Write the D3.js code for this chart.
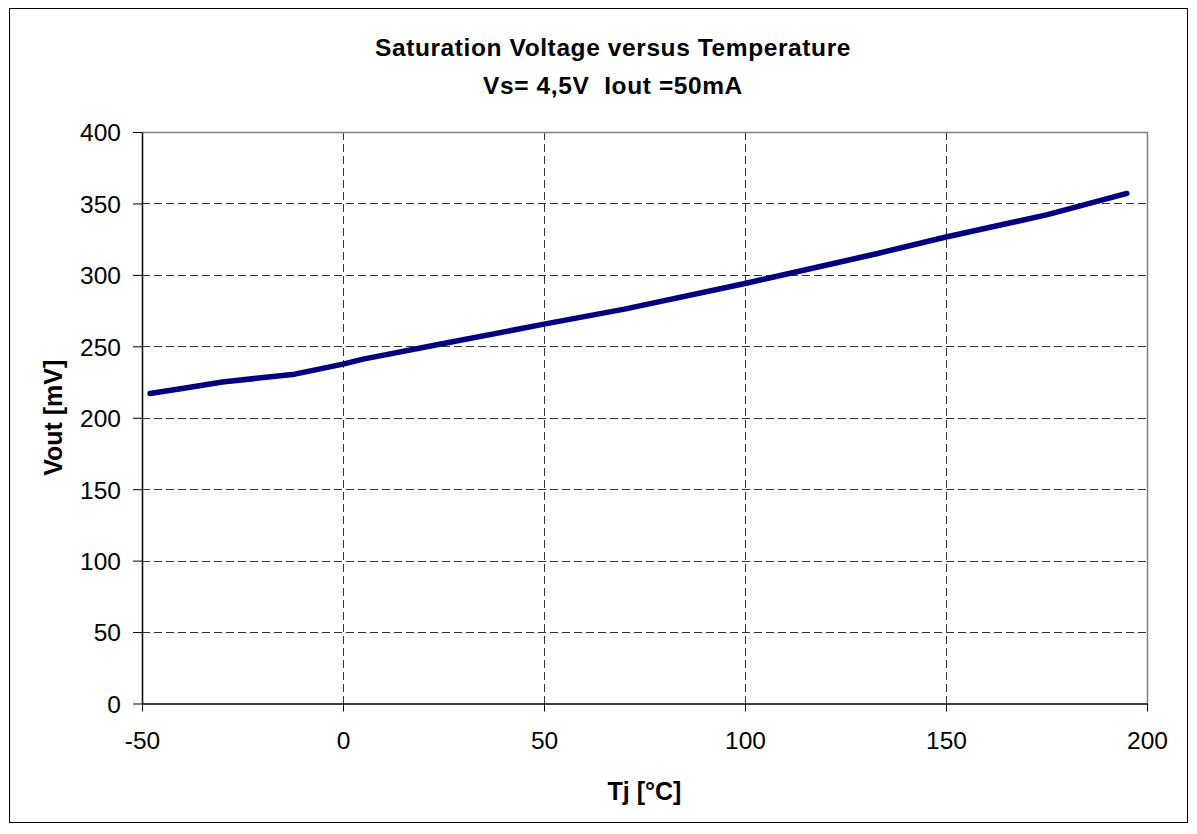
<!DOCTYPE html>
<html>
<head>
<meta charset="utf-8">
<script src="https://cdn.jsdelivr.net/npm/d3@7"></script>
<style>
  html, body { margin: 0; padding: 0; background: #fff; }
  svg { display: block; }
  text { font-family: "Liberation Sans", Arial, sans-serif; fill: #000; }
</style>
</head>
<body>
<svg id="chart" width="1197" height="834"></svg>
<script>
// ---- data ----
const temperature = [-48, -40, -30, -12, 0, 5, 25, 50, 70, 100, 133, 150, 175, 195];
const vout        = [217, 220.5, 225, 230.5, 237.5, 241, 252, 265.5, 276, 294, 315, 326.5, 342, 357];
const xTicks = [-50, 0, 50, 100, 150, 200];
const yTicks = [0, 50, 100, 150, 200, 250, 300, 350, 400];
const titleLines = ["Saturation Voltage versus Temperature", "Vs= 4,5V  Iout =50mA"];
const xLabel = "Tj [°C]";
const yLabel = "Vout [mV]";

// ---- layout ----
const svg = d3.select("#chart");
const L = 142, R = 1147, T = 132, B = 703.5;

const x = d3.scaleLinear().domain([-50, 200]).range([L, R]);
const y = d3.scaleLinear().domain([0, 400]).range([B, T]);

// outer border
svg.append("rect").attr("x", 9.5).attr("y", 8.5).attr("width", 1178).attr("height", 814)
  .attr("fill", "#fff").attr("stroke", "#000").attr("stroke-width", 1);

// gridlines
const grid = svg.append("g");
grid.selectAll("line.h").data(yTicks.filter(d => d > 0 && d < 400)).enter().append("line")
  .attr("x1", L).attr("x2", R)
  .attr("y1", d => Math.round(y(d)) + 0.5).attr("y2", d => Math.round(y(d)) + 0.5)
  .attr("stroke", "#333").attr("stroke-width", 1).attr("stroke-dasharray", "8,4");
grid.selectAll("line.v").data(xTicks.filter(d => d > -50 && d < 200)).enter().append("line")
  .attr("y1", T).attr("y2", B)
  .attr("x1", d => Math.round(x(d)) + 0.5).attr("x2", d => Math.round(x(d)) + 0.5)
  .attr("stroke", "#333").attr("stroke-width", 1).attr("stroke-dasharray", "8,4");

// plot frame top/right (gray)
svg.append("path")
  .attr("d", `M${L},${T + 0.5}H${R + 0.5}V${B}`)
  .attr("fill", "none").attr("stroke", "#808080").attr("stroke-width", 1.5);

// axes
const fmt = d => String(d);
const xAxis = d3.axisBottom(x).tickValues(xTicks).tickFormat(fmt).tickSize(8).tickSizeOuter(0);
const yAxis = d3.axisLeft(y).tickValues(yTicks).tickFormat(fmt).tickSize(9).tickSizeOuter(0);

const gx = svg.append("g").attr("transform", `translate(0,${B})`).call(xAxis);
const gy = svg.append("g").attr("transform", `translate(${L},0)`).call(yAxis);

[gx, gy].forEach(g => {
  g.select(".domain").attr("stroke", "#000").attr("stroke-width", 1.5);
  g.selectAll(".tick line").attr("stroke", "#000").attr("stroke-width", 1);
  g.selectAll(".tick text")
    .attr("font-family", "Liberation Sans, Arial, sans-serif")
    .attr("font-size", 24.5).attr("fill", "#000");
});
gx.selectAll(".tick text").attr("dy", "0.71em").attr("y", 28);
gy.selectAll(".tick text").attr("x", -21).attr("dy", "0.36em");

// line
const line = d3.line().x((d, i) => x(temperature[i])).y(d => y(d));
svg.append("path").datum(vout)
  .attr("d", line)
  .attr("fill", "none").attr("stroke", "#000080").attr("stroke-width", 5.5)
  .attr("stroke-linecap", "round").attr("stroke-linejoin", "round");

// title
svg.selectAll("text.title").data(titleLines).enter().append("text")
  .attr("class", "title")
  .attr("x", 613).attr("y", (d, i) => 56 + i * 38)
  .attr("text-anchor", "middle")
  .attr("font-size", 24.5).attr("font-weight", "bold").attr("letter-spacing", 0.6)
  .style("white-space", "pre")
  .text(d => d);

// axis labels
svg.append("text").attr("x", (L + R) / 2).attr("y", 800)
  .attr("text-anchor", "middle").attr("font-size", 25).attr("font-weight", "bold")
  .text(xLabel);
svg.append("text").attr("transform", `translate(62,${(T + B) / 2}) rotate(-90)`)
  .attr("text-anchor", "middle").attr("font-size", 25).attr("font-weight", "bold")
  .text(yLabel);
</script>
</body>
</html>
